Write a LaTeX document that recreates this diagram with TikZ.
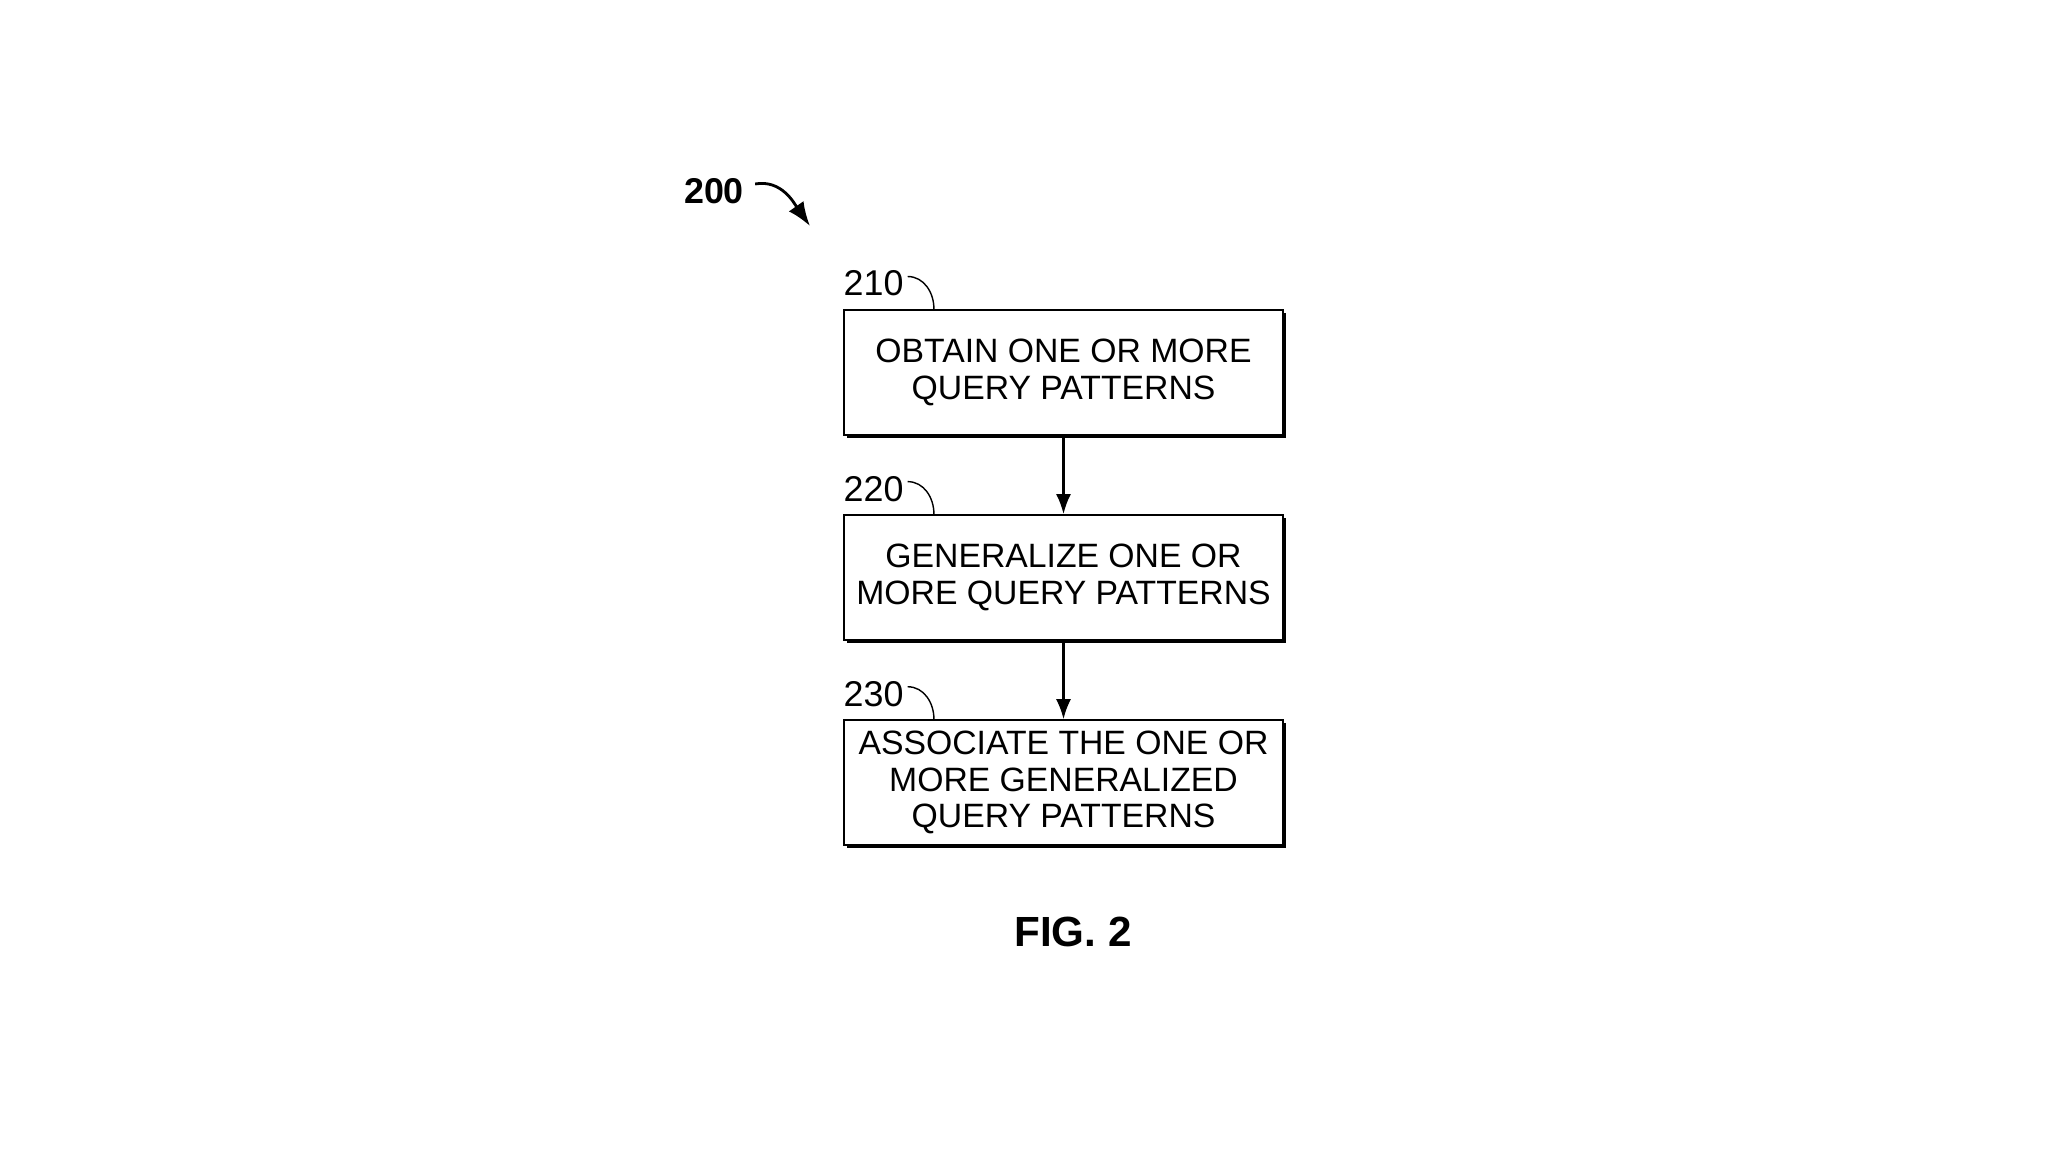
\documentclass[tikz,border=0pt]{standalone}
\usepackage{fontspec}
\setmainfont{Liberation Sans}
\usepackage{tikz}
\usetikzlibrary{positioning, arrows.meta, calc, shadows}

\begin{document}
\begin{tikzpicture}[
    node distance=0.78cm,
    box/.style={
      draw,
      semithick,
      fill=white,
      minimum width=4.39cm,
      minimum height=1.25cm,
      inner sep=1pt,
      align=center,
      font=\fontsize{9.6}{10.4}\selectfont,
      general shadow={fill=black, shadow xshift=0.03cm, shadow yshift=-0.03cm}
    },
    num/.style={
      font=\fontsize{10.2}{12}\selectfont,
      inner sep=0pt,
      anchor=south west
    },
    arrow/.style={
      -{Latex[length=2mm, width=1.5mm]},
      semithick
    },
    hook/.style={thin}
  ]
  \useasboundingbox (0,0) rectangle (20.48,-11.52);

  % figure reference
  \node[font=\bfseries\fontsize{10.2}{12}\selectfont, inner sep=0pt] (fig) at (7.14,-1.91) {200};
  \coordinate (figtip) at (8.10,-2.26);
  \draw[-{Latex[length=2.4mm, width=1.8mm]}, thick] ([xshift=3pt, yshift=2pt]fig.east) to[out=10, in=125] (figtip);

  % steps
  \node[box] (obtain) at (10.635,-3.725) {OBTAIN ONE OR MORE\\QUERY PATTERNS};
  \node[box, below=of obtain] (generalize) {GENERALIZE ONE OR\\MORE QUERY PATTERNS};
  \node[box, below=of generalize] (associate) {ASSOCIATE THE ONE OR\\MORE GENERALIZED\\QUERY PATTERNS};

  % step numbers
  \foreach \b/\n in {obtain/210, generalize/220, associate/230} {
    \node[num] (n\n) at ($(\b.north west)+(0,0.12)$) {\n};
    \coordinate (t\n) at ($(\b.north west)+(0.91,0)$);
    \draw[hook] ([xshift=1pt, yshift=2pt]n\n.east) to[out=0, in=90] (t\n);
  }

  \draw[arrow] (obtain) -- (generalize);
  \draw[arrow] (generalize) -- (associate);

  \node[font=\bfseries\fontsize{12}{14}\selectfont] (caption) at (10.73,-9.32) {FIG. 2};
\end{tikzpicture}
\end{document}
